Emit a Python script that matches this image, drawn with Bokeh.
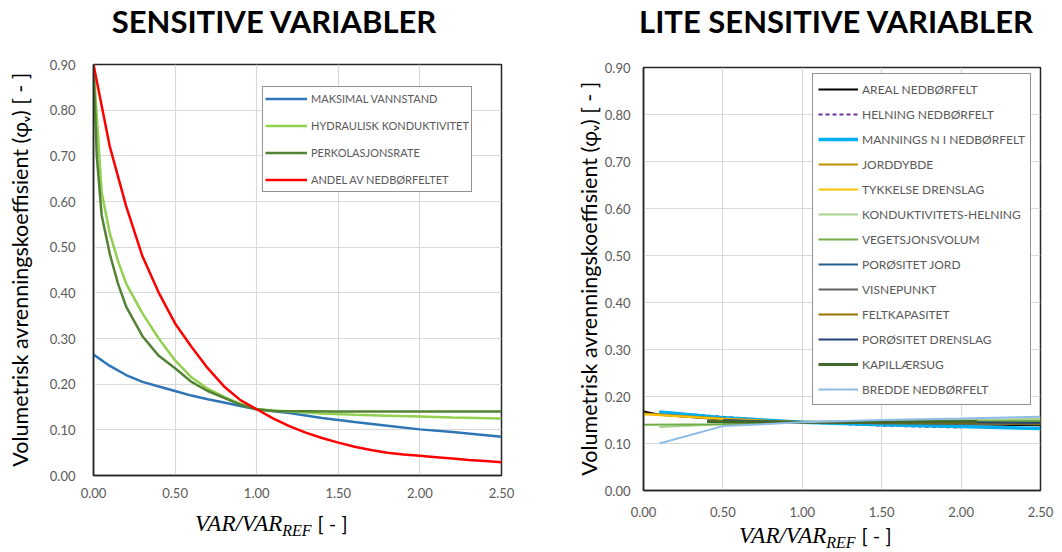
from bokeh.plotting import figure
from bokeh.layouts import row, column
from bokeh.models import Div, Legend, LegendItem, FixedTicker, NumeralTickFormatter, Range1d
from bokeh.embed import file_html
from bokeh.resources import INLINE

FONT = "Lato"

# ---------------- data ----------------
x_ticks = [0.0, 0.5, 1.0, 1.5, 2.0, 2.5]
y_ticks = [0.0, 0.1, 0.2, 0.3, 0.4, 0.5, 0.6, 0.7, 0.8, 0.9]

left_title = "SENSITIVE VARIABLER"
right_title = "LITE SENSITIVE VARIABLER"

# left chart
maks_x = [0.0, 0.1, 0.2, 0.3, 0.4, 0.5, 0.6, 0.7, 0.8, 0.9, 1.0, 1.2, 1.4, 1.6, 1.8, 2.0, 2.2, 2.5]
maks_y = [0.265, 0.240, 0.220, 0.205, 0.195, 0.185, 0.175, 0.167, 0.160, 0.152, 0.145, 0.137, 0.126, 0.117, 0.109, 0.101, 0.095, 0.085]

hydr_x = [0.0, 0.05, 0.1, 0.15, 0.2, 0.3, 0.4, 0.5, 0.6, 0.7, 0.8, 0.9, 1.0, 1.2, 1.4, 1.6, 1.8, 2.0, 2.2, 2.5]
hydr_y = [0.90, 0.62, 0.53, 0.47, 0.42, 0.355, 0.30, 0.252, 0.215, 0.190, 0.172, 0.157, 0.145, 0.140, 0.136, 0.133, 0.131, 0.129, 0.127, 0.125]

perk_x = [0.0, 0.02, 0.05, 0.1, 0.15, 0.2, 0.3, 0.4, 0.5, 0.6, 0.7, 0.8, 0.9, 1.0, 1.1, 1.5, 2.0, 2.5]
perk_y = [0.90, 0.70, 0.57, 0.485, 0.42, 0.37, 0.305, 0.262, 0.235, 0.205, 0.185, 0.170, 0.155, 0.145, 0.141, 0.140, 0.140, 0.140]

andel_x = [0.0, 0.1, 0.2, 0.3, 0.4, 0.5, 0.6, 0.7, 0.8, 0.9, 1.0, 1.1, 1.2, 1.3, 1.4, 1.5, 1.6, 1.7, 1.8, 1.9, 2.0, 2.1, 2.2, 2.3, 2.4, 2.5]
andel_y = [0.90, 0.72, 0.59, 0.48, 0.40, 0.333, 0.282, 0.235, 0.195, 0.165, 0.145, 0.125, 0.108, 0.094, 0.082, 0.072, 0.063, 0.056, 0.050, 0.046, 0.043, 0.040, 0.037, 0.034, 0.032, 0.029]

left_names = ["MAKSIMAL VANNSTAND", "HYDRAULISK KONDUKTIVITET", "PERKOLASJONSRATE", "ANDEL AV NEDBØRFELTET"]
left_colors = ["#2E75B6", "#92D050", "#548235", "#FF0000"]

# right chart
areal_x = [0.0, 0.1, 0.5, 1.0, 1.5, 2.0, 2.5]
areal_y = [0.168, 0.161, 0.151, 0.145, 0.143, 0.141, 0.139]
heln_x = [0.1, 0.5, 1.0, 1.5, 2.0]
heln_y = [0.167, 0.157, 0.145, 0.138, 0.134]
mann_x = [0.1, 0.5, 1.0, 1.5, 2.0, 2.5]
mann_y = [0.167, 0.155, 0.145, 0.140, 0.136, 0.132]
jord_x = [0.0, 0.5, 1.0, 1.5, 2.0, 2.5]
jord_y = [0.164, 0.153, 0.145, 0.143, 0.142, 0.141]
tykk_x = [0.0, 0.5, 1.0, 1.5, 2.0, 2.5]
tykk_y = [0.162, 0.152, 0.145, 0.146, 0.147, 0.148]
kond_x = [0.1, 0.5, 1.0, 1.5, 2.0, 2.5]
kond_y = [0.135, 0.141, 0.145, 0.148, 0.150, 0.152]
veg_x = [0.0, 0.5, 1.0, 1.5, 2.0, 2.5]
veg_y = [0.140, 0.141, 0.145, 0.146, 0.147, 0.148]
porj_x = [0.5, 1.0, 1.5, 2.0, 2.5]
porj_y = [0.150, 0.145, 0.143, 0.142, 0.141]
visn_x = [0.5, 1.0, 1.5, 2.0, 2.5]
visn_y = [0.148, 0.145, 0.144, 0.143, 0.142]
felt_x = [0.5, 1.0, 1.5, 2.0, 2.5]
felt_y = [0.149, 0.145, 0.144, 0.143, 0.142]
pord_x = [0.5, 1.0, 1.5, 2.0, 2.5]
pord_y = [0.149, 0.145, 0.145, 0.145, 0.144]
kap_x = [0.4, 0.7, 1.0, 1.5, 2.1]
kap_y = [0.147, 0.146, 0.145, 0.146, 0.147]
bred_x = [0.1, 0.5, 1.0, 1.5, 2.0, 2.5]
bred_y = [0.100, 0.137, 0.145, 0.150, 0.153, 0.157]

right_names = ["AREAL NEDBØRFELT", "HELNING NEDBØRFELT", "MANNINGS N I NEDBØRFELT", "JORDDYBDE",
               "TYKKELSE DRENSLAG", "KONDUKTIVITETS-HELNING", "VEGETSJONSVOLUM", "PORØSITET JORD",
               "VISNEPUNKT", "FELTKAPASITET", "PORØSITET DRENSLAG", "KAPILLÆRSUG", "BREDDE NEDBØRFELT"]
right_colors = ["#000000", "#7030A0", "#00B0F0", "#BF9000", "#FFC000", "#A9D18E", "#70AD47", "#255E91",
                "#636363", "#997300", "#264478", "#43682B", "#8FBCE6"]

ylabel = "Volumetrisk avrenningskoeffisient (φᵥ) [ - ]"
xlabel_main = "VAR/VAR"
xlabel_sub = "REF"
xlabel_unit = "[ - ]"


def base_fig(width, height, mleft, mright, mtop, mbottom, xstand, ystand, lstand):
    p = figure(width=width, height=height, x_range=Range1d(0, 2.5), y_range=Range1d(0, 0.9),
               output_backend="svg", toolbar_location=None,
               min_border_left=mleft, min_border_right=mright,
               min_border_top=mtop, min_border_bottom=mbottom)
    p.xaxis.ticker = FixedTicker(ticks=x_ticks)
    p.yaxis.ticker = FixedTicker(ticks=y_ticks)
    p.xaxis.formatter = NumeralTickFormatter(format="0.00")
    p.yaxis.formatter = NumeralTickFormatter(format="0.00")
    for ax in (p.xaxis, p.yaxis):
        ax.major_tick_line_color = None
        ax.minor_tick_line_color = None
        ax.axis_line_color = "#262626"
        ax.axis_line_width = 1.5
        ax.major_label_text_font = FONT
        ax.major_label_text_font_size = "13px"
        ax.major_label_text_color = "#595959"
    p.xaxis.major_label_standoff = xstand
    p.yaxis.major_label_standoff = ystand
    p.yaxis.axis_label = ylabel
    p.yaxis.axis_label_text_font = FONT
    p.yaxis.axis_label_text_font_style = "normal"
    p.yaxis.axis_label_text_font_size = "21.5px"
    p.yaxis.axis_label_text_color = "#000000"
    p.yaxis.axis_label_standoff = lstand
    p.xgrid.grid_line_color = "#D9D9D9"
    p.ygrid.grid_line_color = "#D9D9D9"
    p.xgrid.grid_line_width = 1.2
    p.ygrid.grid_line_width = 1.2
    p.outline_line_color = "#262626"
    p.outline_line_width = 1.5
    return p


def title_div(width, text, shift):
    html = ('<div style="width:%dpx; text-align:center; padding-left:%dpx; box-sizing:border-box; '
            'font-family:Lato; font-weight:bold; font-size:31px; line-height:42px; color:#000; '
            'white-space:nowrap;">%s</div>' % (width, shift, text))
    return Div(text=html, width=width, height=48, margin=(0, 0, 0, 0))


def xlabel_div(width, height, left, lh):
    html = ('<div style="padding-left:%dpx; line-height:%dpx; white-space:nowrap; color:#000;">'
            '<span style="font-family:\'Liberation Serif\'; font-style:italic; font-size:23px;">%s</span>'
            '<span style="font-family:\'Liberation Serif\'; font-style:italic; font-size:16px; '
            'position:relative; top:5px;">%s</span>'
            '<span style="font-family:Lato; font-size:20px; margin-left:6px;">%s</span></div>'
            % (left, lh, xlabel_main, xlabel_sub, xlabel_unit))
    return Div(text=html, width=width, height=height, margin=(0, 0, 0, 0))


# ---------------- left chart ----------------
p1 = base_fig(548, 455, 93, 47, 16, 28, 6, 12, 14)
left_series = [(maks_x, maks_y), (hydr_x, hydr_y), (perk_x, perk_y), (andel_x, andel_y)]
items1 = []
for (xs, ys), name, col in zip(left_series, left_names, left_colors):
    r = p1.line(xs, ys, line_color=col, line_width=2.5)
    items1.append(LegendItem(label=name, renderers=[r]))
leg1 = Legend(items=items1, location=(169, 283), border_line_color="#262626", border_line_width=1,
              label_text_font=FONT, label_text_font_size="11px", label_text_color="#595959",
              glyph_width=42, glyph_height=19, label_height=19, spacing=8, padding=2, margin=0,
              label_standoff=4, background_fill_alpha=1.0)
p1.add_layout(leg1)
t1 = title_div(548, left_title, 0)
b1 = xlabel_div(548, 47, 195, 40)

# ---------------- right chart ----------------
p2 = base_fig(512, 472, 95, 20, 19, 30, 10, 7, 0)
right_series = [(areal_x, areal_y), (heln_x, heln_y), (mann_x, mann_y), (jord_x, jord_y),
                (tykk_x, tykk_y), (kond_x, kond_y), (veg_x, veg_y), (porj_x, porj_y),
                (visn_x, visn_y), (felt_x, felt_y), (pord_x, pord_y), (kap_x, kap_y), (bred_x, bred_y)]
items2 = []
for (xs, ys), name, col in zip(right_series, right_names, right_colors):
    lw = 2.0
    dash = "solid"
    if name.startswith("MANNINGS"):
        lw = 3.5
    if name.startswith("HELNING"):
        dash = "4 3"
    if name.startswith("KAPILL"):
        lw = 3.0
    r = p2.line(xs, ys, line_color=col, line_width=lw, line_dash=dash)
    items2.append(LegendItem(label=name, renderers=[r]))
leg2 = Legend(items=items2, location=(169, 85), border_line_color="#262626", border_line_width=1,
              label_text_font=FONT, label_text_font_size="12px", label_text_color="#595959",
              glyph_width=40, glyph_height=20, label_height=20, spacing=5, padding=5, margin=0,
              label_standoff=4, background_fill_alpha=1.0)
p2.add_layout(leg2)
t2 = title_div(512, right_title, 64)
b2 = xlabel_div(512, 30, 191, 30)

layout = row(column(t1, p1, b1), column(t2, p2, b2))
open("out.html", "w").write(file_html(layout, INLINE))
